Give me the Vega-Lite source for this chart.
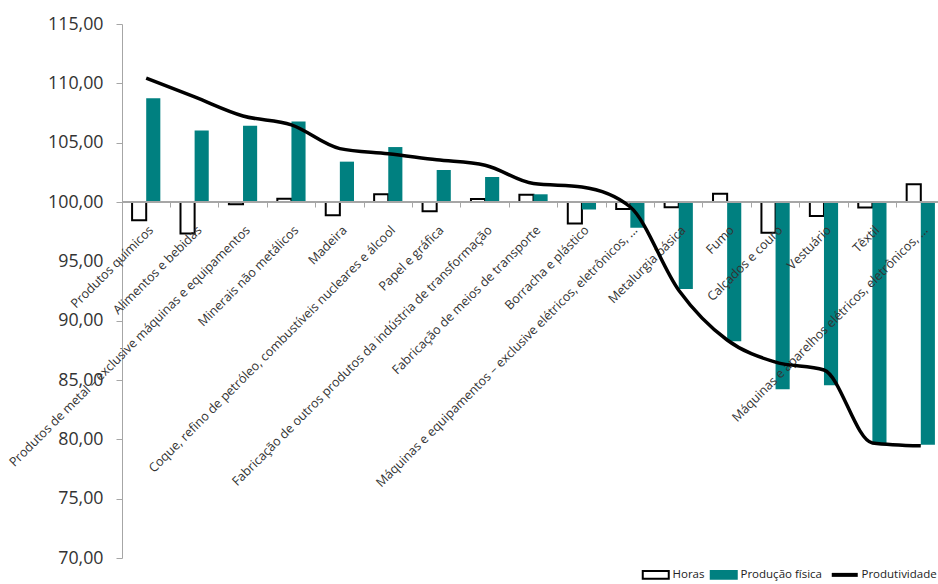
{
  "$schema": "https://vega.github.io/schema/vega-lite/v6.json",
  "width": 823,
  "height": 534,
  "autosize": {"type": "none"},
  "padding": {"left": 122, "top": 24, "right": 0, "bottom": 26},
  "background": "white",
  "config": {
    "view": {"stroke": null},
    "font": "Open Sans"
  },
  "datasets": {
    "rows": [
      {"ordem": 1, "setor": "Produtos químicos", "Horas": 98.46, "Produção física": 108.75, "Produtividade": 110.43},
      {"ordem": 2, "setor": "Alimentos e bebidas", "Horas": 97.34, "Produção física": 106.03, "Produtividade": 108.85},
      {"ordem": 3, "setor": "Produtos de metal – exclusive máquinas e equipamentos", "Horas": 99.8, "Produção física": 106.42, "Produtividade": 107.25},
      {"ordem": 4, "setor": "Minerais não metálicos", "Horas": 100.28, "Produção física": 106.79, "Produtividade": 106.5},
      {"ordem": 5, "setor": "Madeira", "Horas": 98.88, "Produção física": 103.4, "Produtividade": 104.5},
      {"ordem": 6, "setor": "Coque, refino de petróleo, combustíveis nucleares e álcool", "Horas": 100.65, "Produção física": 104.63, "Produtividade": 104.07},
      {"ordem": 7, "setor": "Papel e gráfica", "Horas": 99.22, "Produção física": 102.7, "Produtividade": 103.56},
      {"ordem": 8, "setor": "Fabricação de outros produtos da indústria de transformação", "Horas": 100.25, "Produção física": 102.1, "Produtividade": 103.1},
      {"ordem": 9, "setor": "Fabricação de meios de transporte", "Horas": 100.62, "Produção física": 100.65, "Produtividade": 101.55},
      {"ordem": 10, "setor": "Borracha e plástico", "Horas": 98.18, "Produção física": 99.36, "Produtividade": 101.27},
      {"ordem": 11, "setor": "Máquinas e equipamentos – exclusive elétricos, eletrônicos, ...", "Horas": 99.41, "Produção física": 97.84, "Produtividade": 99.58},
      {"ordem": 12, "setor": "Metalurgia básica", "Horas": 99.55, "Produção física": 92.66, "Produtividade": 92.57},
      {"ordem": 13, "setor": "Fumo", "Horas": 100.7, "Produção física": 88.26, "Produtividade": 88.37},
      {"ordem": 14, "setor": "Calçados e couro", "Horas": 97.4, "Produção física": 84.22, "Produtividade": 86.5},
      {"ordem": 15, "setor": "Vestuário", "Horas": 98.82, "Produção física": 84.56, "Produtividade": 85.84},
      {"ordem": 16, "setor": "Têxtil", "Horas": 99.53, "Produção física": 79.62, "Produtividade": 79.7},
      {"ordem": 17, "setor": "Máquinas e aparelhos elétricos, eletrônicos, ...", "Horas": 101.49, "Produção física": 79.54, "Produtividade": 79.45}
    ]
  },
  "data": {"name": "rows"},
  "transform": [{"fold": ["Horas", "Produção física", "Produtividade"], "as": ["serie", "valor"]}],
  "layer": [
    {
      "transform": [{"filter": "datum.serie !== 'Produtividade'"}],
      "mark": {"type": "bar"},
      "encoding": {
        "x": {
          "field": "setor",
          "type": "nominal",
          "sort": {"field": "ordem"},
          "scale": {"paddingInner": 0, "paddingOuter": 0},
          "axis": {
            "title": null,
            "labels": false,
            "domain": false,
            "ticks": true,
            "tickColor": "#a6a6a6",
            "tickSize": 5,
            "bandPosition": 0,
            "offset": -356
          }
        },
        "xOffset": {
          "field": "serie",
          "type": "nominal",
          "sort": ["Horas", "Produção física"],
          "scale": {"paddingInner": 0, "paddingOuter": 0.714}
        },
        "y": {
          "field": "valor",
          "type": "quantitative",
          "scale": {"domain": [70, 115], "nice": false, "zero": false},
          "axis": {
            "values": [70, 75, 80, 85, 90, 95, 100, 105, 110, 115],
            "labelExpr": "replace(format(datum.value, '.2f'), '.', ',')",
            "grid": false,
            "title": null,
            "domainColor": "#a6a6a6",
            "tickColor": "#a6a6a6",
            "tickSize": 6,
            "labelPadding": 13,
            "labelFontSize": 17.8,
            "labelColor": "#333333",
            "labelFont": "Open Sans"
          }
        },
        "y2": {"datum": 100},
        "fill": {
          "field": "serie",
          "type": "nominal",
          "scale": {"domain": ["Horas", "Produção física", "Produtividade"], "range": ["#ffffff", "#008080", "#ffffff"]},
          "legend": {
            "orient": "none",
            "legendX": 528,
            "legendY": 545,
            "direction": "horizontal",
            "title": null,
            "labelFontSize": 11.5,
            "labelColor": "#222222",
            "labelFont": "Open Sans",
            "labelOffset": 11,
            "columnPadding": 1,
            "symbolSize": 676,
            "symbolType": "M-1,-0.3H1V0.3H-1Z",
            "encode": {
              "symbols": {
                "update": {
                  "shape": {"signal": "datum.value === 'Produtividade' ? 'M-1,0H1' : 'M-1,-0.3H1V0.3H-1Z'"},
                  "strokeWidth": {"signal": "datum.value === 'Produtividade' ? 4 : 2"},
                  "opacity": {"value": 1}
                }
              }
            }
          }
        },
        "stroke": {
          "field": "serie",
          "type": "nominal",
          "scale": {"domain": ["Horas", "Produção física", "Produtividade"], "range": ["#000000", "#008080", "#000000"]},
          "legend": {
            "orient": "none",
            "legendX": 528,
            "legendY": 545,
            "direction": "horizontal",
            "title": null,
            "labelFontSize": 11.5,
            "labelColor": "#222222",
            "labelFont": "Open Sans",
            "labelOffset": 11,
            "columnPadding": 1,
            "symbolSize": 676,
            "symbolType": "M-1,-0.3H1V0.3H-1Z",
            "encode": {
              "symbols": {
                "update": {
                  "shape": {"signal": "datum.value === 'Produtividade' ? 'M-1,0H1' : 'M-1,-0.3H1V0.3H-1Z'"},
                  "strokeWidth": {"signal": "datum.value === 'Produtividade' ? 4 : 2"},
                  "opacity": {"value": 1}
                }
              }
            }
          }
        },
        "strokeWidth": {
          "condition": {"test": "datum.serie === 'Horas'", "value": 2},
          "value": 0
        }
      }
    },
    {
      "mark": {"type": "rule", "color": "#a6a6a6", "strokeWidth": 1.5},
      "encoding": {"y": {"datum": 100}}
    },
    {
      "transform": [{"filter": "datum.serie === 'Produtividade'"}],
      "mark": {"type": "text", "angle": -45, "align": "right", "baseline": "top", "fontSize": 12.6, "color": "#333333", "font": "Open Sans", "dx": -15, "dy": 16},
      "encoding": {
        "x": {"field": "setor", "type": "nominal", "sort": {"field": "ordem"}},
        "y": {"datum": 100},
        "text": {"field": "setor"}
      }
    },
    {
      "transform": [{"filter": "datum.serie === 'Produtividade'"}],
      "mark": {"type": "line", "interpolate": "monotone", "strokeWidth": 3.5},
      "encoding": {
        "x": {"field": "setor", "type": "nominal", "sort": {"field": "ordem"}},
        "y": {"field": "valor", "type": "quantitative"},
        "stroke": {
          "field": "serie",
          "type": "nominal",
          "legend": {
            "orient": "none",
            "legendX": 528,
            "legendY": 545,
            "direction": "horizontal",
            "title": null,
            "labelFontSize": 11.5,
            "labelColor": "#222222",
            "labelFont": "Open Sans",
            "labelOffset": 11,
            "columnPadding": 1,
            "symbolSize": 676,
            "symbolType": "M-1,-0.3H1V0.3H-1Z",
            "encode": {
              "symbols": {
                "update": {
                  "shape": {"signal": "datum.value === 'Produtividade' ? 'M-1,0H1' : 'M-1,-0.3H1V0.3H-1Z'"},
                  "strokeWidth": {"signal": "datum.value === 'Produtividade' ? 4 : 2"},
                  "opacity": {"value": 1}
                }
              }
            }
          }
        }
      }
    }
  ]
}
